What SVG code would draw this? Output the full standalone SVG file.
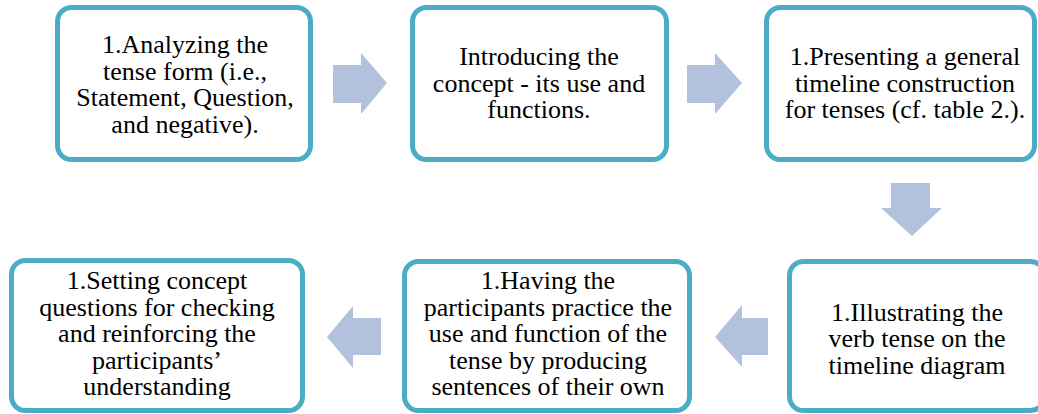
<svg xmlns="http://www.w3.org/2000/svg" width="1038" height="414" viewBox="0 0 1038 414">
<style>
.box{fill:#ffffff;stroke:#4bacc6;stroke-width:5}
.arr{fill:#b3c2dc;stroke:none}
.t{font-family:'Liberation Serif','DejaVu Serif',serif;font-size:26px;fill:#000000;text-anchor:middle}
</style>
<rect width="1038" height="414" fill="#ffffff"/>
<g id="connectors">
<polygon class="arr" points="333,65 361,65 361,53 387,83 361,114 361,103 333,103"/>
<polygon class="arr" points="687,65 715,65 715,53 742,83 715,114 715,103 687,103"/>
<polygon class="arr" points="891,183 930,183 930,208 942,208 912,236 881,208 891,208"/>
<polygon class="arr" points="768,318 742,318 742,305 715,337 742,367 742,355 768,355"/>
<polygon class="arr" points="381,318 353,318 353,306 327,337 353,368 353,355 381,355"/>
</g>
<g id="node1" class="t">
<rect class="box" x="57.5" y="7.5" width="253" height="152" rx="14"/>
<text x="185" y="53">1.Analyzing the</text>
<text x="185" y="79.5">tense form (i.e.,</text>
<text x="185" y="106">Statement, Question,</text>
<text x="185" y="132.5">and negative).</text>
</g>
<g id="node2" class="t">
<rect class="box" x="412.5" y="7.5" width="254" height="152" rx="14"/>
<text x="539" y="65">Introducing the</text>
<text x="539" y="91.5">concept - its use and</text>
<text x="539" y="118">functions.</text>
</g>
<g id="node3" class="t">
<rect class="box" x="766.5" y="7.5" width="268" height="152" rx="14"/>
<text x="905" y="65">1.Presenting a general</text>
<text x="905" y="91.5">timeline construction</text>
<text x="905" y="118">for tenses (cf. table 2.).</text>
</g>
<g id="node4" class="t">
<rect class="box" x="789.5" y="261.5" width="255" height="149" rx="14"/>
<text x="917" y="320.5">1.Illustrating the</text>
<text x="917" y="347">verb tense on the</text>
<text x="917" y="373.5">timeline diagram</text>
</g>
<g id="node5" class="t">
<rect class="box" x="404.5" y="261.5" width="285" height="149" rx="14"/>
<text x="548" y="289">1.Having the</text>
<text x="548" y="315.5">participants practice the</text>
<text x="548" y="342">use and function of the</text>
<text x="548" y="368.5">tense by producing</text>
<text x="548" y="395">sentences of their own</text>
</g>
<g id="node6" class="t">
<rect class="box" x="11.5" y="260.5" width="291" height="150" rx="14"/>
<text x="157" y="289">1.Setting concept</text>
<text x="157" y="315.5">questions for checking</text>
<text x="157" y="342">and reinforcing the</text>
<text x="157" y="368.5">participants’</text>
<text x="157" y="395">understanding</text>
</g>
</svg>
